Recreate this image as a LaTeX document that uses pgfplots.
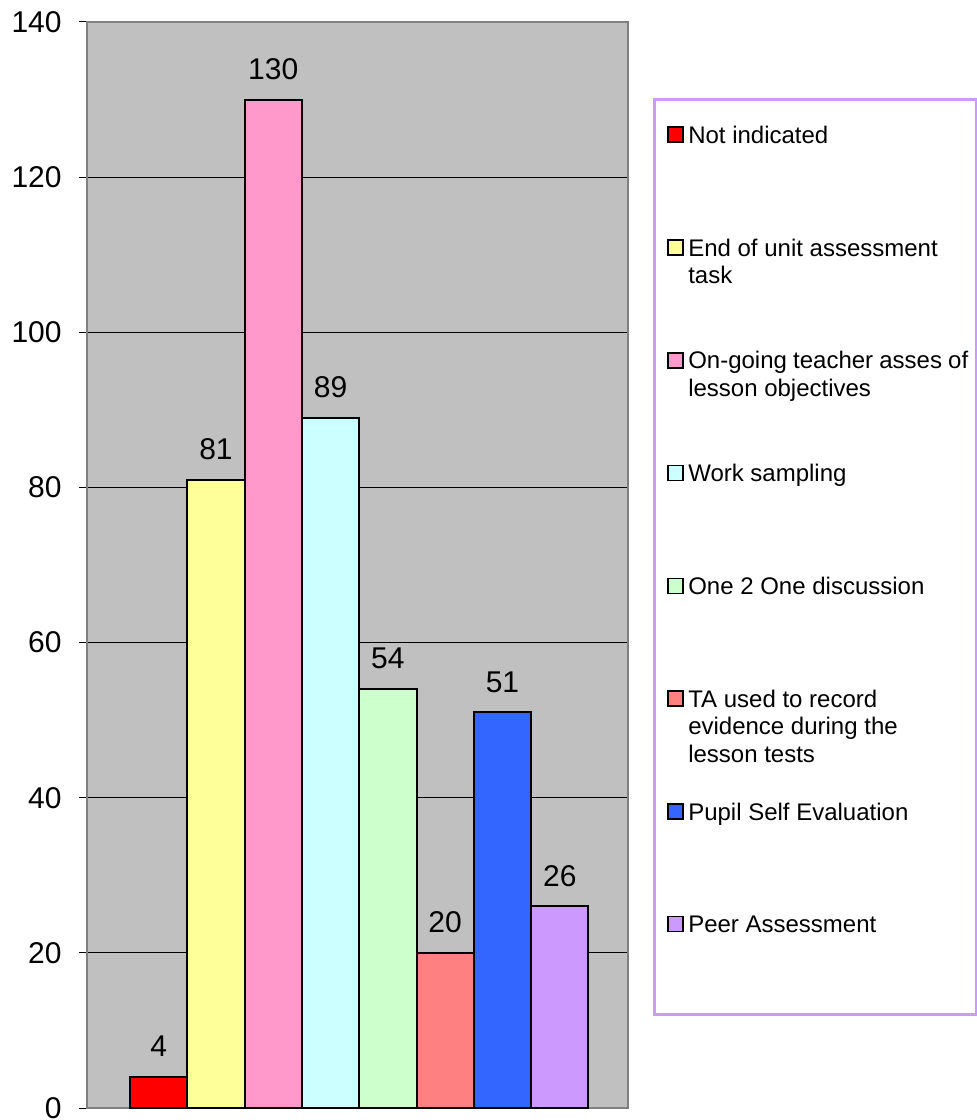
\documentclass[border=0pt]{standalone}
\usepackage{pgfplots}
\pgfplotsset{compat=1.18}
\usepackage{fontspec}
\setmainfont{Liberation Sans}

\definecolor{plotbg}{RGB}{192,192,192}
\definecolor{framegray}{RGB}{128,128,128}
\definecolor{cRed}{RGB}{255,0,0}
\definecolor{cYellow}{RGB}{255,255,153}
\definecolor{cPink}{RGB}{255,153,204}
\definecolor{cCyan}{RGB}{204,255,255}
\definecolor{cGreen}{RGB}{204,255,204}
\definecolor{cSalmon}{RGB}{255,128,128}
\definecolor{cBlue}{RGB}{51,102,255}
\definecolor{cPurple}{RGB}{204,153,255}

% legend text, wrapped by hand
\newcommand{\legtext}[1]{\parbox[t]{140pt}{\baselineskip=13.75pt #1}}

\begin{document}
\begin{tikzpicture}
\begin{axis}[
    scale only axis,
    width=270.5pt, height=543pt,
    xmin=-1.25, xmax=8.19,
    ymin=0, ymax=140,
    ytick distance=20,
    xtick=\empty,
    ytick pos=left,
    tick align=outside,
    major tick length=4pt,
    tick style={black, line width=0.5pt},
    ymajorgrids,
    grid style={black, line width=0.5pt},
    axis line style={framegray, line width=1pt},
    axis background/.style={fill=plotbg},
    /pgf/number format/assume math mode=true,
    yticklabel style={font=\fontsize{15}{18}\selectfont, inner sep=0pt, xshift=-8.5pt},
    ybar, bar width=1, bar shift=0pt,
    every axis plot/.append style={draw=black, line width=1pt},
    nodes near coords,
    nodes near coords style={font=\fontsize{15}{18}\selectfont, anchor=south, inner sep=0pt, yshift=9.5pt, /pgf/number format/assume math mode=true},
    legend image code/.code={\draw[#1, draw=black, line width=0.8pt] (0pt,-3pt) rectangle (7.5pt,4.5pt);},
    legend cell align=left,
    legend style={draw=none, fill=none, at={(rel axis cs:1.0715,0.9046)}, anchor=north west,
        inner sep=0pt, row sep=46.2pt, column sep=2.3pt,
        nodes={inner sep=0pt, font=\fontsize{12}{13.75}\selectfont}},
    clip=false,
]
\addplot[fill=cRed] coordinates {(0,4)};
\addlegendentry{\legtext{Not indicated}}
\addplot[fill=cYellow] coordinates {(1,81)};
\addlegendentry{\legtext{End of unit assessment\\task}}
\addplot[fill=cPink] coordinates {(2,130)};
\addlegendentry{\legtext{On-going teacher asses of\\lesson objectives}}
\addplot[fill=cCyan] coordinates {(3,89)};
\addlegendentry{\legtext{Work sampling}}
\addplot[fill=cGreen] coordinates {(4,54)};
\addlegendentry{\legtext{One 2 One discussion}}
\addplot[fill=cSalmon] coordinates {(5,20)};
\addlegendentry{\legtext{TA used to record\\evidence during the\\lesson tests}}
\addplot[fill=cBlue] coordinates {(6,51)};
\addlegendentry{\legtext{Pupil Self Evaluation}}
\addplot[fill=cPurple] coordinates {(7,26)};
\addlegendentry{\legtext{Peer Assessment}}

\draw[cPurple, line width=1.5pt] (rel axis cs:1.0499,0.92818) rectangle (rel axis cs:1.6433,0.08564);
\coordinate (bbsw) at (rel axis cs:-0.16081,-0.011050);
\coordinate (bbne) at (rel axis cs:1.64510,1.020258);
\end{axis}
\pgfresetboundingbox
\useasboundingbox (bbsw) rectangle (bbne);
\end{tikzpicture}
\end{document}
